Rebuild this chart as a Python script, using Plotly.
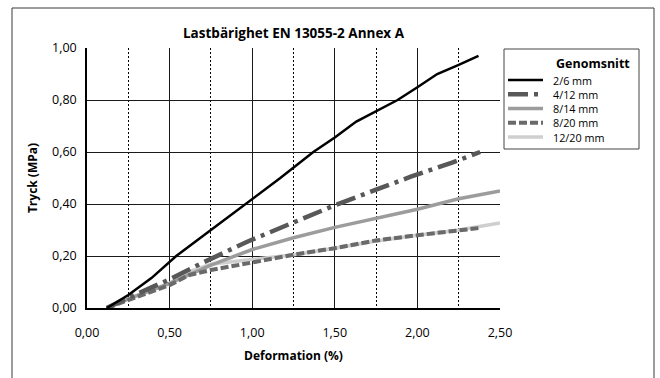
import plotly.graph_objects as go

# Deformation (%) and pressure (MPa) per grain size
x_2_6 = [0.12, 0.25, 0.39, 0.54, 0.75, 0.96, 1.17, 1.37, 1.50, 1.63, 1.75, 1.88, 2.00, 2.12, 2.25, 2.37]
y_2_6 = [0.00, 0.05, 0.115, 0.20, 0.30, 0.40, 0.50, 0.60, 0.656, 0.717, 0.758, 0.80, 0.849, 0.90, 0.935, 0.97]

x_4_12 = [0.12, 0.25, 0.50, 0.70, 0.97, 1.25, 1.50, 1.75, 1.96, 2.21, 2.38]
y_4_12 = [0.00, 0.04, 0.11, 0.174, 0.255, 0.33, 0.395, 0.455, 0.505, 0.559, 0.60]

x_8_14 = [0.12, 0.25, 0.50, 0.75, 1.00, 1.25, 1.50, 1.75, 2.00, 2.25, 2.50]
y_8_14 = [0.00, 0.035, 0.095, 0.165, 0.225, 0.27, 0.31, 0.345, 0.38, 0.42, 0.45]

x_8_20 = [0.12, 0.25, 0.50, 0.62, 0.75, 1.00, 1.25, 1.50, 1.75, 2.00, 2.25, 2.38]
y_8_20 = [0.00, 0.03, 0.088, 0.127, 0.146, 0.175, 0.205, 0.23, 0.26, 0.28, 0.30, 0.308]

x_12_20 = [0.12, 0.25, 0.50, 0.62, 0.75, 1.00, 1.25, 1.50, 1.75, 2.00, 2.25, 2.50]
y_12_20 = [0.00, 0.035, 0.095, 0.14, 0.168, 0.185, 0.205, 0.23, 0.258, 0.28, 0.30, 0.327]

series_names = ["2/6 mm", "4/12 mm", "8/14 mm", "8/20 mm", "12/20 mm"]
legend_title = "Genomsnitt"

FONT = "Open Sans"

# line style per series, in legend order
styles = [
    dict(color="#000000", width=2.5),
    dict(color="#585858", width=4.5, dash="20px,6px,4px,6px"),
    dict(color="#9c9c9c", width=3.5),
    dict(color="#6a6a6a", width=4, dash="8px,3px"),
    dict(color="#cfcfcf", width=3.5),
]
data = [(x_2_6, y_2_6), (x_4_12, y_4_12), (x_8_14, y_8_14), (x_8_20, y_8_20), (x_12_20, y_12_20)]

fig = go.Figure()

# lighter lines underneath the darker ones
for i in [4, 2, 3, 1, 0]:
    xs, ys = data[i]
    fig.add_trace(go.Scatter(x=xs, y=ys, name=series_names[i], mode="lines",
                             line=styles[i], showlegend=False))

L, R, T, B = 87, 500, 48, 308
W, H = 660, 378
pw, ph = R - L, B - T

def px_x(p):
    return (p - L) / pw

def px_y(p):
    return (B - p) / ph

# outer frame
fig.add_shape(type="rect", xref="paper", yref="paper",
              x0=px_x(12), x1=px_x(654), y0=px_y(395), y1=px_y(8),
              line=dict(color="#3a3a3a", width=1), layer="below")

# legend box
fig.add_shape(type="rect", xref="paper", yref="paper",
              x0=px_x(504), x1=px_x(639), y0=px_y(149), y1=px_y(49),
              line=dict(color="#444", width=1), fillcolor="white")
fig.add_annotation(xref="paper", yref="paper", x=px_x(631), y=px_y(63),
                   xanchor="right", yanchor="middle", showarrow=False, borderpad=0,
                   text=f"<b>{legend_title}</b>",
                   font=dict(family=FONT, size=12.5, color="#000"))
for k, name in enumerate(series_names):
    yy = px_y(80 + 14.25 * k)
    st = styles[k]
    fig.add_shape(type="line", xref="paper", yref="paper",
                  x0=px_x(508), x1=px_x(543), y0=yy, y1=yy,
                  line=dict(color=st["color"], width=st["width"],
                            dash=st.get("dash", "solid")))
    fig.add_annotation(xref="paper", yref="paper", x=px_x(552), y=yy,
                       xanchor="left", yanchor="middle", showarrow=False, borderpad=0,
                       text=name, font=dict(family=FONT, size=10.8, color="#000"))

fig.update_layout(
    width=W, height=H,
    margin=dict(l=L, r=W - R, t=T, b=H - B),
    paper_bgcolor="white", plot_bgcolor="white",
    separators=", ",
    font=dict(family=FONT, color="#000", size=12),
    title=dict(text="<b>Lastbärighet EN 13055-2 Annex A</b>", x=0.5, xref="paper",
               xanchor="center", y=1 - 33 / H, yref="container", yanchor="middle",
               font=dict(family=FONT, size=13.5, color="#000")),
    showlegend=False,
    xaxis=dict(range=[0, 2.5], dtick=0.5, tick0=0, tickformat=".2f",
               showgrid=True, gridcolor="#1a1a1a", gridwidth=1,
               showline=True, linecolor="#000", linewidth=1.5,
               zeroline=False, ticks="", ticklabelstandoff=12,
               tickfont=dict(family=FONT, size=12.5),
               minor=dict(dtick=0.5, tick0=0.25, showgrid=True, gridcolor="#000",
                          gridwidth=1, griddash="2px,2px"),
               title=dict(text="<b>Deformation (%)</b>", standoff=12,
                          font=dict(family=FONT, size=12))),
    yaxis=dict(range=[0, 1.0], dtick=0.2, tick0=0, tickformat=".2f",
               showgrid=True, gridcolor="#1a1a1a", gridwidth=1,
               showline=True, linecolor="#000", linewidth=1.5,
               zeroline=False, ticks="", ticklabelstandoff=6,
               tickfont=dict(family=FONT, size=12.5),
               title=dict(text="<b>Tryck (MPa)</b>", standoff=12,
                          font=dict(family=FONT, size=12))),
)

fig.write_html("out.html")
